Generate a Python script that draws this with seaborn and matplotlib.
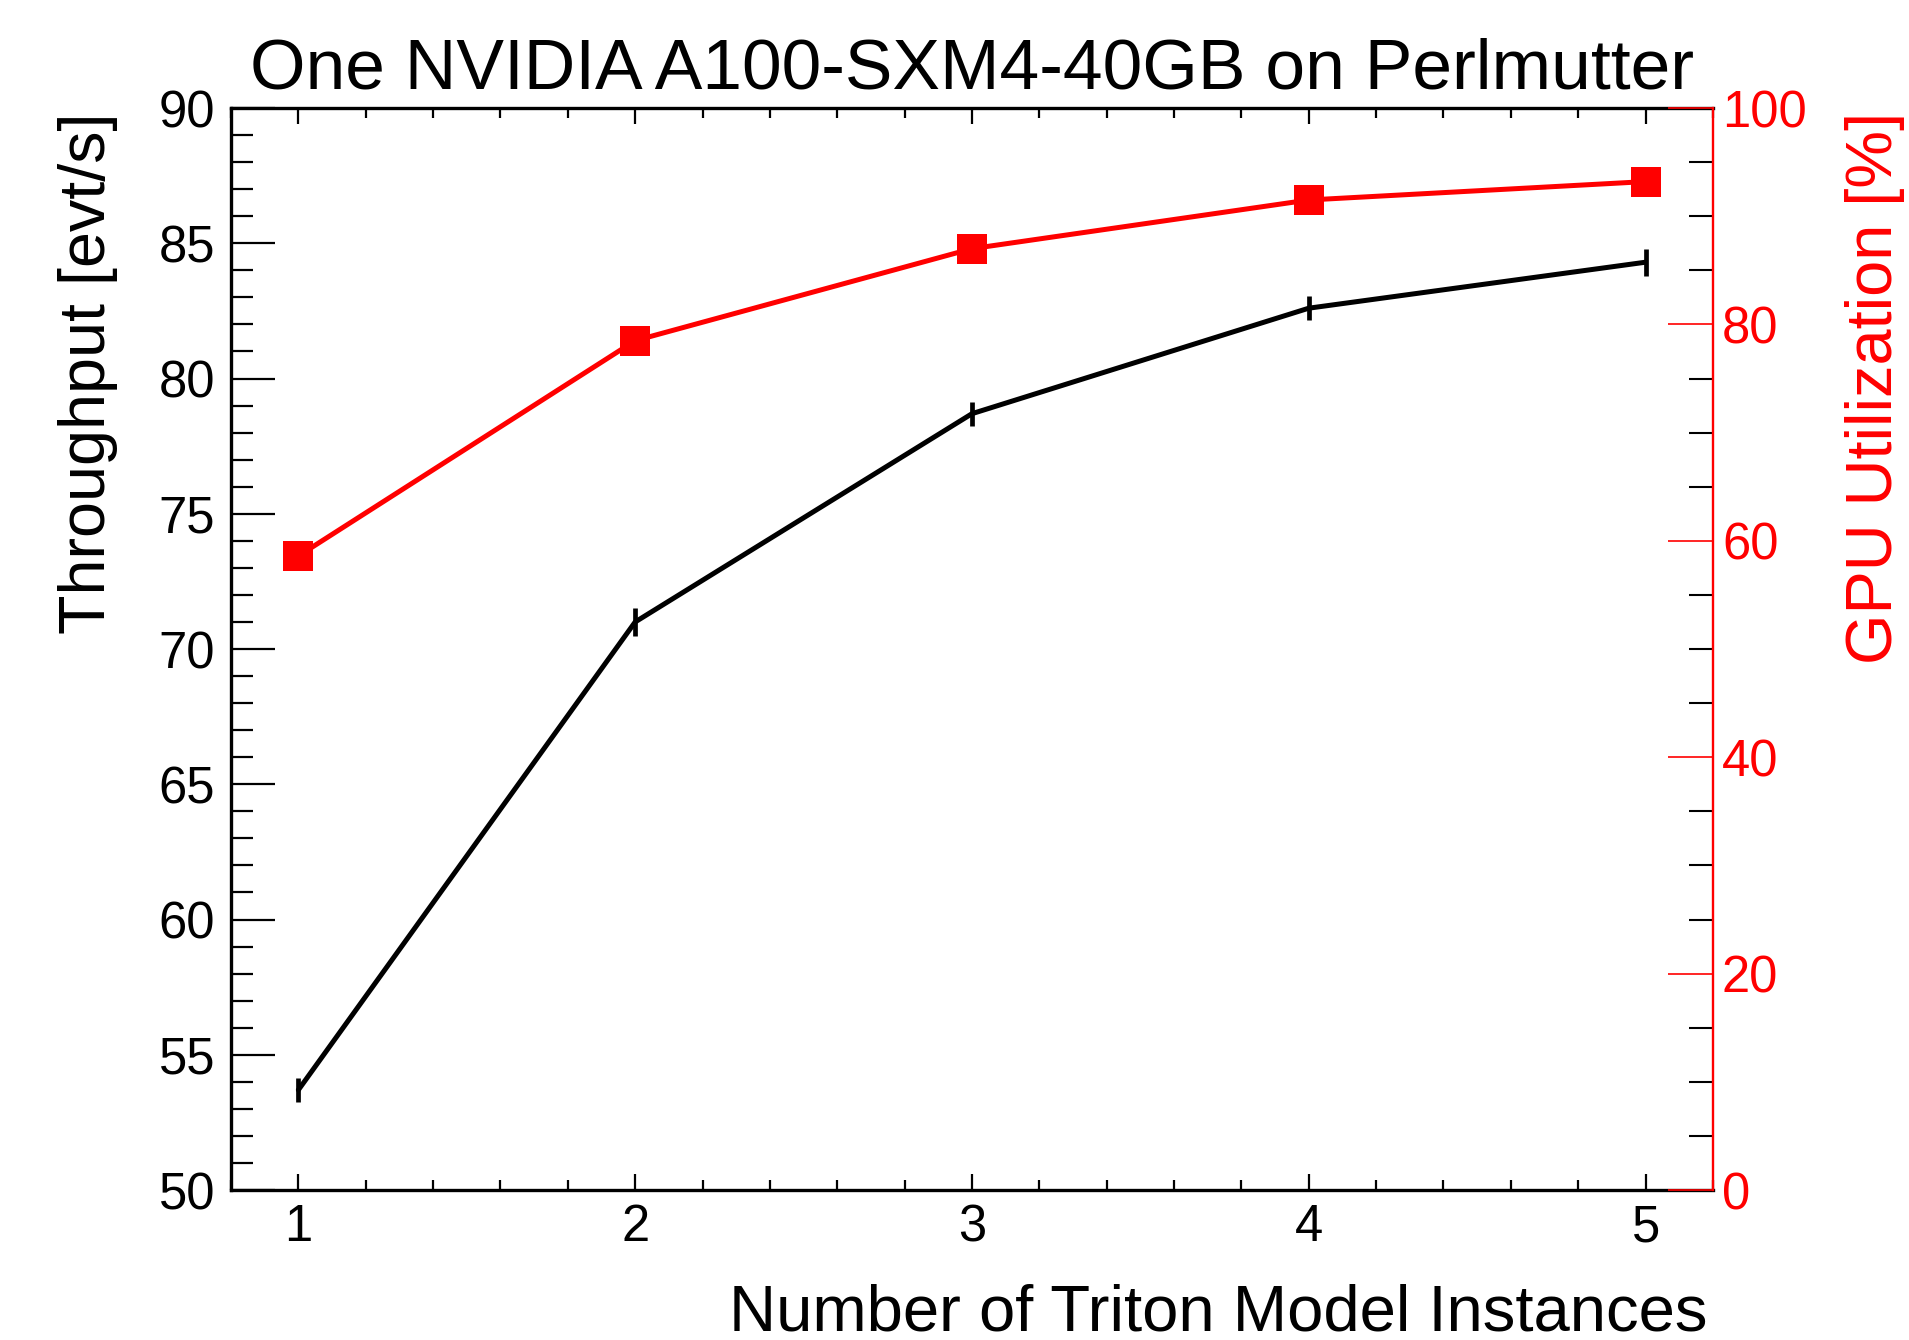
import matplotlib
matplotlib.use("Agg")
import matplotlib.pyplot as plt
from matplotlib.ticker import MultipleLocator
import seaborn as sns

# data
instances = [1, 2, 3, 4, 5]
throughput = [53.7, 71.0, 78.7, 82.6, 84.3]
throughput_err = [0.45, 0.5, 0.45, 0.45, 0.5]
gpu_util = [58.6, 78.5, 87.0, 91.5, 93.2]

title = "One NVIDIA A100-SXM4-40GB on Perlmutter"
xlabel = "Number of Triton Model Instances"
ylabel_left = "Throughput [evt/s]"
ylabel_right = "GPU Utilization [%]"

sns.set_theme(style="ticks", rc={"axes.edgecolor": "black", "text.color": "black",
                                 "xtick.color": "black", "ytick.color": "black",
                                 "axes.labelcolor": "black"})
plt.rcParams['font.family'] = ['Liberation Sans', 'DejaVu Sans']

fig = plt.figure(figsize=(19.09, 13.40), dpi=100)
ax = fig.add_axes([0.1210, 0.1119, 0.7763, 0.8075])

# throughput (left axis)
sns.lineplot(x=instances, y=throughput, ax=ax, color='black', linewidth=3.6)
ax.errorbar(instances, throughput, yerr=throughput_err, fmt='none',
            ecolor='black', elinewidth=3.4, capsize=0)

# gpu utilization (right axis)
ax2 = ax.twinx()
sns.lineplot(x=instances, y=gpu_util, ax=ax2, color='red', linewidth=3.6,
             marker='s', markersize=22, markeredgewidth=0)

ax.set_xlim(0.8, 5.2)
ax.set_ylim(50, 90)
ax2.set_ylim(0, 100)

# ROOT-like ticks
ax.xaxis.set_major_locator(MultipleLocator(1))
ax.xaxis.set_minor_locator(MultipleLocator(0.2))
ax.yaxis.set_major_locator(MultipleLocator(5))
ax.yaxis.set_minor_locator(MultipleLocator(1))
ax.tick_params(axis='x', which='both', direction='in', top=True, bottom=True)
ax.tick_params(axis='x', which='major', length=11.5, width=1.6, labelsize=36.5, pad=9.5)
ax.tick_params(axis='x', which='minor', length=7.2, width=1.6)
ax.tick_params(axis='y', which='both', direction='in', left=True, right=False)
ax.tick_params(axis='y', which='major', length=31.7, width=1.6, labelsize=36.5, pad=11.5)
ax.tick_params(axis='y', which='minor', length=15.8, width=1.6)

ax2.yaxis.set_major_locator(MultipleLocator(20))
ax2.yaxis.set_minor_locator(MultipleLocator(5))
ax2.tick_params(axis='y', which='major', direction='in', length=32.4, width=1.2,
                color='red', labelcolor='red', labelsize=36.5, pad=6.5)
ax2.tick_params(axis='y', which='minor', direction='in', length=17.3, width=1.5, color='black')

for s in ['left', 'top', 'bottom']:
    ax.spines[s].set_linewidth(2.4)
    ax.spines[s].set_color('black')
    ax2.spines[s].set_visible(False)
ax.spines['right'].set_visible(False)
ax2.spines['right'].set_color('red')
ax2.spines['right'].set_linewidth(1.7)

ax.set_title(title, fontsize=51.4, pad=14)
ax.set_xlabel(xlabel, fontsize=47, loc='right')
ax.xaxis.set_label_coords(0.9966, -0.1295)
ax.xaxis.label.set_va('baseline')
ax.set_ylabel(ylabel_left, fontsize=46.5, loc='top')
ax.yaxis.set_label_coords(-0.0965, 0.9963)
ax.yaxis.label.set_va('center')
ax2.set_ylabel(ylabel_right, fontsize=46.7, color='red', loc='top')
ax2.yaxis.set_label_coords(1.1095, 0.9963)
ax2.yaxis.label.set_va('center')

fig.savefig("out.png", dpi=100)
